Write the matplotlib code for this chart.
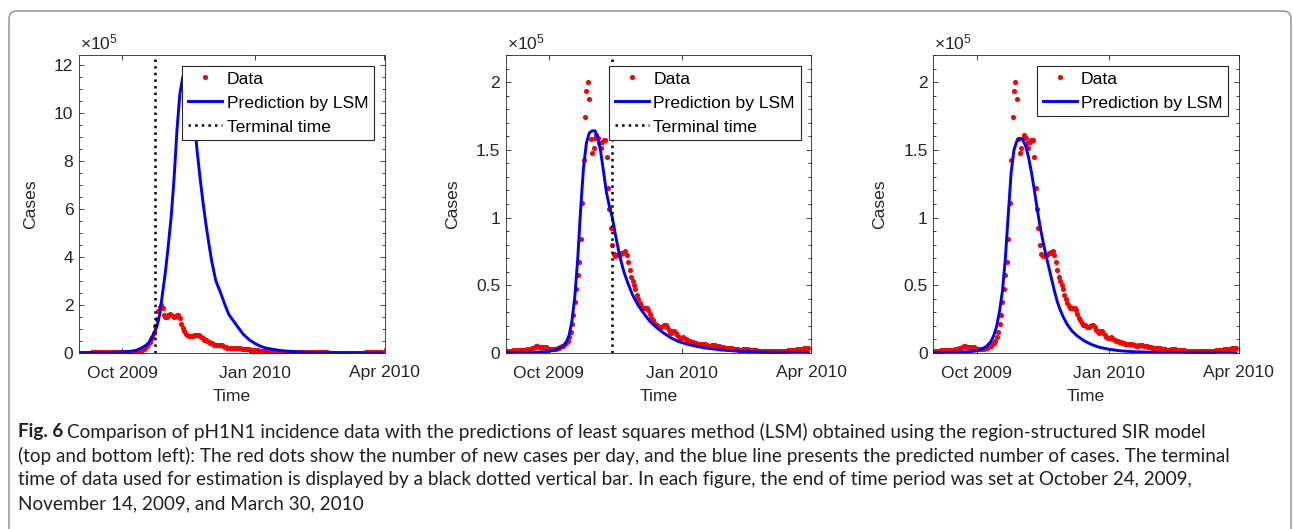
import numpy as np
import matplotlib
matplotlib.use("Agg")
import matplotlib.pyplot as plt
from matplotlib.patches import FancyBboxPatch
from matplotlib.ticker import MultipleLocator
from matplotlib.lines import Line2D

plt.rcParams['font.family'] = ['Liberation Sans', 'DejaVu Sans']
plt.rcParams['mathtext.fontset'] = 'custom'
plt.rcParams['mathtext.rm'] = 'Liberation Sans'
plt.rcParams['mathtext.it'] = 'Liberation Sans:italic'

# ---------------------------------------------------------------- data
# new pH1N1 cases per day (x 1e5), one value per day from 1 Sep 2009
start_date = np.datetime64('2009-09-01')
new_cases = [
    0.016, 0.017, 0.016, 0.018, 0.017, 0.019, 0.018, 0.020, 0.019, 0.021,
    0.020, 0.022, 0.021, 0.023, 0.024, 0.026, 0.028, 0.031, 0.034, 0.038,
    0.044, 0.049, 0.050, 0.046, 0.042, 0.041, 0.044, 0.047, 0.045, 0.038,
    0.032, 0.029, 0.028, 0.030, 0.031, 0.033, 0.036, 0.040, 0.044, 0.050,
    0.055, 0.064, 0.076, 0.092, 0.115, 0.157, 0.212, 0.280, 0.375, 0.475,
    0.576, 0.672, 0.842, 1.111, 1.424, 1.742, 1.936, 1.998, 1.872, 1.580,
    1.480, 1.510, 1.585, 1.610, 1.585, 1.550, 1.510, 1.560, 1.575, 1.570,
    1.450, 1.220, 1.060, 0.920, 0.800, 0.730, 0.715, 0.720, 0.720, 0.725,
    0.735, 0.740, 0.745, 0.750, 0.720, 0.670, 0.610, 0.560, 0.530, 0.500,
    0.470, 0.430, 0.400, 0.370, 0.345, 0.335, 0.330, 0.330, 0.330, 0.320,
    0.285, 0.260, 0.240, 0.225, 0.210, 0.205, 0.200, 0.195, 0.190, 0.200,
    0.210, 0.205, 0.190, 0.170, 0.155, 0.150, 0.160, 0.160, 0.150, 0.135,
    0.120, 0.110, 0.112, 0.118, 0.112, 0.100, 0.095, 0.090, 0.085, 0.080,
    0.078, 0.075, 0.072, 0.070, 0.068, 0.066, 0.066, 0.065, 0.066, 0.062,
    0.056, 0.055, 0.054, 0.056, 0.060, 0.058, 0.055, 0.052, 0.050, 0.047,
    0.045, 0.043, 0.040, 0.039, 0.038, 0.037, 0.036, 0.034, 0.033, 0.031,
    0.030, 0.030, 0.025, 0.022, 0.020, 0.026, 0.029, 0.027, 0.026, 0.024,
    0.023, 0.022, 0.021, 0.020, 0.019, 0.018, 0.018, 0.017, 0.017, 0.016,
    0.016, 0.015, 0.015, 0.015, 0.015, 0.015, 0.015, 0.015, 0.015, 0.015,
    0.016, 0.016, 0.016, 0.017, 0.017, 0.018, 0.019, 0.020, 0.020, 0.021,
    0.023, 0.024, 0.026, 0.027, 0.029, 0.030, 0.032, 0.034, 0.036, 0.037,
    0.040,
]

# LSM predictions (x 1e5), days counted from 1 Sep 2009
fit1_days = [0, 20, 30, 36, 40, 43, 46, 48, 50, 52, 54, 56, 58, 60, 62, 64, 66, 68,
             70, 72, 74, 76, 78, 80, 82, 84, 86, 88, 90, 92, 95, 98, 101, 104, 107,
             110, 114, 118, 122, 126, 130, 140, 153, 170, 210]
fit1_vals = [0.01, 0.02, 0.04, 0.07, 0.12, 0.2, 0.3, 0.4, 0.58, 0.82, 1.1, 1.6, 2.5,
             3.4, 4.5, 5.7, 7.3, 9.3, 10.8, 11.5, 11.7, 11.4, 10.7, 9.7, 8.4, 7.3,
             6.3, 5.4, 4.6, 3.85, 3.0, 2.55, 2.05, 1.6, 1.35, 1.1, 0.78, 0.56, 0.4,
             0.28, 0.2, 0.1, 0.04, 0.015, 0.005]

fit2_days = [0, 20, 30, 35, 40, 42, 44, 46, 48, 50, 52, 54, 56, 58, 60, 62, 64, 66,
             68, 70, 72, 74, 76, 79, 82, 85, 88, 92, 96, 100, 105, 110, 115, 120,
             126, 132, 140, 150, 160, 180, 210]
fit2_vals = [0.002, 0.005, 0.012, 0.025, 0.05, 0.08, 0.13, 0.24, 0.42, 0.7, 1.06,
             1.37, 1.55, 1.625, 1.64, 1.64, 1.59, 1.48, 1.33, 1.18, 1.08, 1.0, 0.88,
             0.72, 0.6, 0.51, 0.43, 0.35, 0.29, 0.235, 0.185, 0.145, 0.11, 0.085,
             0.065, 0.05, 0.035, 0.022, 0.014, 0.006, 0.003]

fit3_days = [0, 15, 25, 30, 34, 37, 40, 42, 44, 46, 48, 50, 52, 54, 56, 58, 60, 62,
             64, 66, 68, 70, 72, 74, 76, 78, 80, 82, 84, 86, 88, 90, 93, 96, 100,
             105, 110, 115, 122, 130, 140, 150, 170, 210]
fit3_vals = [0.003, 0.005, 0.01, 0.016, 0.03, 0.05, 0.085, 0.13, 0.2, 0.31, 0.46,
             0.7, 1.02, 1.33, 1.5, 1.565, 1.585, 1.575, 1.53, 1.45, 1.34, 1.21, 1.07,
             0.94, 0.83, 0.73, 0.64, 0.55, 0.46, 0.38, 0.32, 0.27, 0.21, 0.165,
             0.125, 0.088, 0.062, 0.043, 0.027, 0.016, 0.009, 0.006, 0.003, 0.002]

terminal_dates = ['2009-10-24', '2009-11-14', None]

x_ticks = ['2009-10-01', '2010-01-01', '2010-04-01']
x_ticklabels = ['Oct 2009', 'Jan 2010', 'Apr 2010']
x_limits = ['2009-09-01', '2010-04-01']

y_ticks = [[0, 2, 4, 6, 8, 10, 12], [0, 0.5, 1, 1.5, 2], [0, 0.5, 1, 1.5, 2]]
y_ticklabels = [['0', '2', '4', '6', '8', '10', '12'],
                ['0', '0.5', '1', '1.5', '2'],
                ['0', '0.5', '1', '1.5', '2']]
y_tops = [12.42, 2.2, 2.2]
y_minor = [0.5, 0.1, 0.1]

caption_lines = [
    "Comparison of pH1N1 incidence data with the predictions of least squares method (LSM) obtained using the region-structured SIR model",
    "(top and bottom left): The red dots show the number of new cases per day, and the blue line presents the predicted number of cases. The terminal",
    "time of data used for estimation is displayed by a black dotted vertical bar. In each figure, the end of time period was set at October 24, 2009,",
    "November 14, 2009, and March 30, 2010",
]

# ---------------------------------------------------------------- figure
W, H = 1293, 529
fig = plt.figure(figsize=(W / 100, H / 100), dpi=100)

# rounded frame round the whole figure
frame = FancyBboxPatch((0.09, -0.3), 12.82, 5.48, boxstyle="round,pad=0,rounding_size=0.08",
                       transform=fig.dpi_scale_trans, facecolor='none',
                       edgecolor='#8a8a8a', linewidth=1.0)
fig.add_artist(frame)

axes_left = [79, 505.7, 933.3]
ylabel_x = [38, 460, 887]
ax_w, ax_top, ax_bot = 305.5, 55, 353
case_dates = start_date + np.arange(len(new_cases))
fits = [(fit1_days, fit1_vals), (fit2_days, fit2_vals), (fit3_days, fit3_vals)]

fs = 12.6
grey = '0.15'
for i in range(3):
    ax = fig.add_axes([axes_left[i] / W, 1 - ax_bot / H, ax_w / W, (ax_bot - ax_top) / H])
    fd, fv = fits[i]
    ax.plot(case_dates, new_cases, 'o', color='red', markersize=3.7, markeredgewidth=0)
    ax.plot(start_date + np.array(fd), fv, '-', color='blue', linewidth=2.1)
    handles = [Line2D([], [], marker='o', color='red', linestyle='none', markersize=3.7,
                      markeredgewidth=0),
               Line2D([], [], color='blue', linewidth=2.1)]
    labels = ['Data', 'Prediction by LSM']
    if terminal_dates[i] is not None:
        ax.axvline(np.datetime64(terminal_dates[i]), color='black', linestyle=':', linewidth=1.8)
        handles.append(Line2D([], [], color='black', linestyle=':', linewidth=1.8))
        labels.append('Terminal time')

    ax.set_xlim(np.datetime64(x_limits[0]), np.datetime64(x_limits[1]))
    ax.set_ylim(0, y_tops[i])
    ax.set_xticks([np.datetime64(d) for d in x_ticks])
    ax.set_xticklabels(x_ticklabels)
    ax.set_yticks(y_ticks[i])
    ax.set_yticklabels(y_ticklabels[i])
    ax.yaxis.set_minor_locator(MultipleLocator(y_minor[i]))
    ax.tick_params(which='both', direction='in', top=True, right=True, colors=grey,
                   labelsize=fs, width=0.6)
    ax.tick_params(which='major', length=3.5, pad=4)
    ax.tick_params(axis='x', which='major', pad=9)
    ax.tick_params(which='minor', length=2)
    ax.tick_params(axis='x', which='minor', bottom=False, top=False)
    for s in ax.spines.values():
        s.set_linewidth(0.6)
        s.set_color(grey)

    ax.set_xlabel('Time', fontsize=fs, color=grey, labelpad=6)
    ax.set_ylabel('Cases', fontsize=fs, color=grey)
    ax.yaxis.set_label_coords(-(axes_left[i] - ylabel_x[i]) / ax_w, 0.5)
    ax.text(0.003, 1.01, r'$\times10^{5}$', transform=ax.transAxes, fontsize=fs,
            color=grey, ha='left', va='bottom')

    leg = ax.legend(handles, labels, loc='upper right', fontsize=fs, frameon=True,
                    fancybox=False, edgecolor=grey, framealpha=1, borderaxespad=0.6,
                    handlelength=1.95, handletextpad=0.25, labelspacing=0.5,
                    borderpad=0.33, numpoints=1)
    leg.get_frame().set_linewidth(0.8)
    for t in leg.get_texts():
        t.set_color('black')

# ---------------------------------------------------------------- caption
cap_font = ['Lato', 'Liberation Sans', 'DejaVu Sans']
cap_fs = 13.6
cap_col = '#231f20'
line_y = [432, 456, 480, 504]
fig_lbl = fig.text(18 / W, 1 - line_y[0] / H, 'Fig. 6', fontsize=cap_fs, weight='bold',
                   family=cap_font, color=cap_col, va='center', ha='left')
ax.annotate(caption_lines[0], xy=(1, 0.5), xycoords=fig_lbl, xytext=(3, 0),
            textcoords='offset points', va='center', ha='left', fontsize=cap_fs,
            family=cap_font, color=cap_col, annotation_clip=False)
for k in range(1, 4):
    fig.text(18 / W, 1 - line_y[k] / H, caption_lines[k], fontsize=cap_fs,
             family=cap_font, color=cap_col, va='center', ha='left')

fig.savefig('out.png', dpi=100)
